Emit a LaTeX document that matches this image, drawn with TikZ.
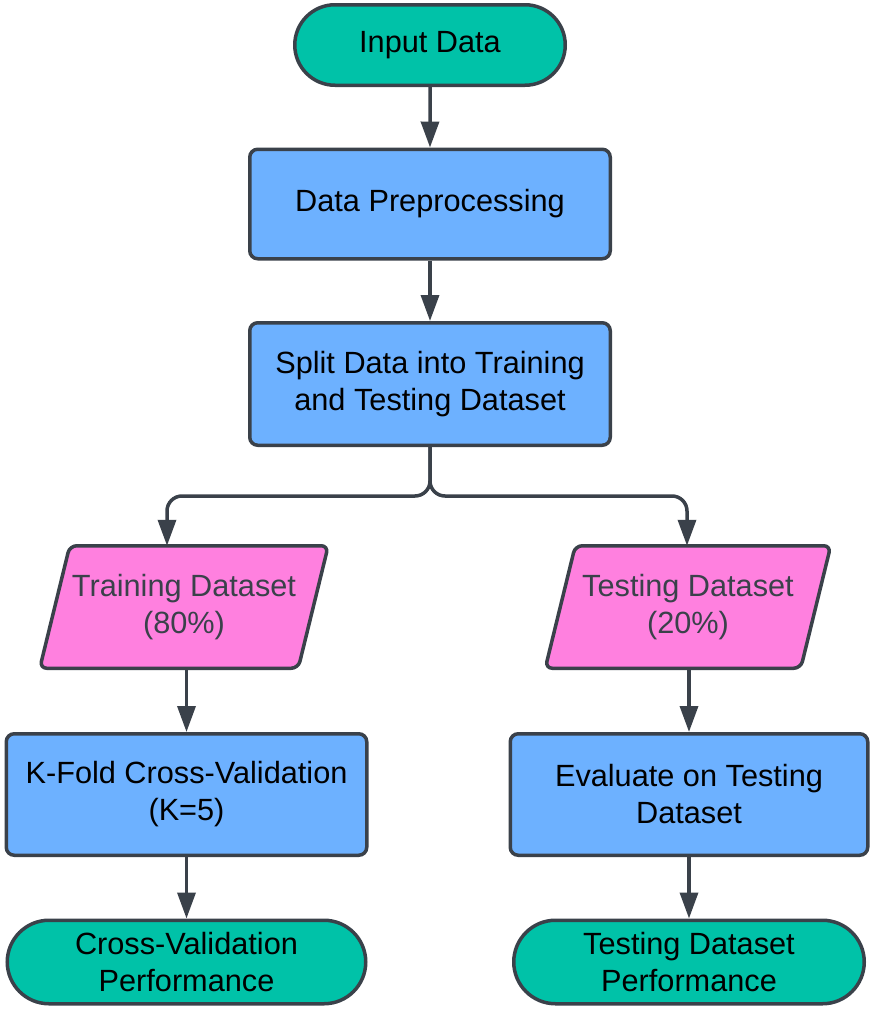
\documentclass[tikz,border=0pt]{standalone}
\usepackage{fontspec}
\setmainfont{Liberation Sans}
\usetikzlibrary{shapes.misc,arrows.meta,backgrounds}
\definecolor{tealA}{HTML}{00C2A8}
\definecolor{blueA}{HTML}{6DB1FF}
\definecolor{pinkA}{HTML}{FF80DF}
\definecolor{lineA}{HTML}{3A414A}
\begin{document}
\begin{tikzpicture}[x=1pt,y=-1pt,
  base/.style={draw=lineA, line width=3.5pt, font=\fontsize{30.7}{37}\selectfont, align=center, inner sep=0pt, text=black},
  term/.style={base, rounded rectangle, fill=tealA},
  proc/.style={base, rectangle, rounded corners=8pt, fill=blueA},
  io/.style={base, draw=none, outer sep=0pt, text=lineA, minimum width=288.5pt, minimum height=122.5pt},
  para/.style={draw=lineA, line width=3.5pt, fill=pinkA, rounded corners=7pt, line join=round},
  conn/.style={draw=lineA, line width=3.5pt, -{Triangle[length=26pt,width=18pt]}},
]
\useasboundingbox (0,0) rectangle (871,1009);

\node[term, minimum width=270.5pt, minimum height=80.5pt] (in) at (430,45) {Input Data};
\node[proc, minimum width=360.5pt, minimum height=109.5pt] (prep) at (430,204) {Data Preprocessing};
\node[proc, minimum width=360.5pt, minimum height=122.5pt] (split) at (430,384) {Split Data into Training\\and Testing Dataset};

\node[io] (train) at (184,607) {Training Dataset\\(80\%)};
\node[io, minimum width=285.5pt] (test) at (688,607) {Testing Dataset\\(20\%)};
\begin{scope}[on background layer]
  \draw[para] ([xshift=30pt]train.north west) -- (train.north east) -- ([xshift=-30pt]train.south east) -- (train.south west) -- cycle;
  \draw[para] ([xshift=30pt]test.north west) -- (test.north east) -- ([xshift=-30pt]test.south east) -- (test.south west) -- cycle;
\end{scope}

\node[proc, minimum width=360.5pt, minimum height=121.5pt] (kfold) at (186.5,794.5) {K-Fold Cross-Validation\\(K=5)};
\node[proc, minimum width=357.5pt, minimum height=121.5pt] (eval) at (689,794.5) {Evaluate on Testing\\Dataset};

\node[term, minimum width=358.5pt, minimum height=83.5pt] (cvperf) at (186.5,962) {Cross-Validation\\Performance};
\node[term, minimum width=350.5pt, minimum height=83.5pt] (tperf) at (689,962) {Testing Dataset\\Performance};

\draw[conn] (in) -- (prep);
\draw[conn] (prep) -- (split);
\coordinate (j) at (430,496);
\coordinate (ta) at ([xshift=-17pt]train.north);
\coordinate (tb) at ([xshift=-1pt]test.north);
\draw[conn, rounded corners=15pt] (split.south) -- (j) -- (j -| ta) -- (ta);
\draw[conn, rounded corners=15pt] (split.south) -- (j) -- (j -| tb) -- (tb);
\draw[conn] (kfold.north |- train.south) -- (kfold.north);
\draw[conn] (eval.north |- test.south) -- (eval.north);
\draw[conn] (kfold.south) -- (cvperf.north);
\draw[conn] (eval.south) -- (tperf.north);
\end{tikzpicture}
\end{document}
